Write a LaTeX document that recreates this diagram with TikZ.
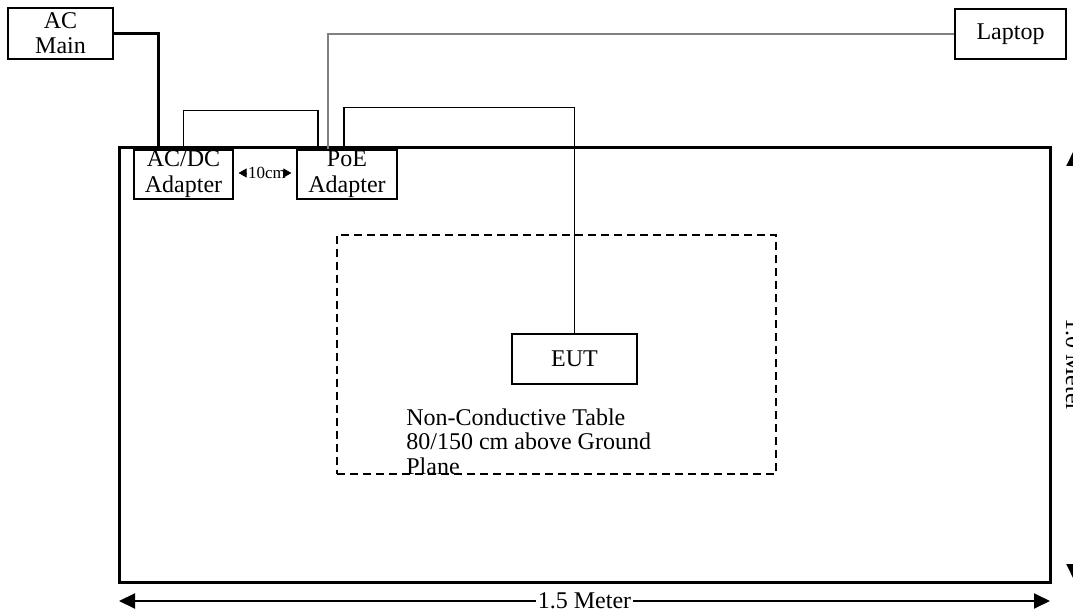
\documentclass[tikz,border=0pt]{standalone}
\usepackage{fontspec}
\setmainfont{Liberation Serif}
\usetikzlibrary{arrows.meta,positioning,calc}

\begin{document}
\begin{tikzpicture}[x=0.5pt,y=-0.5pt,every node/.style={font=\fontsize{12}{12.5}\selectfont},
  box/.style={draw,line width=0.6pt,inner sep=0pt,align=center},
  wire/.style={line width=0.6pt},
  dimline/.style={line width=1pt,{Triangle[length=8pt,width=7.5pt]}-{Triangle[length=8pt,width=7.5pt]}}]
\useasboundingbox (0,0) rectangle (1073,615);
\clip (0,0) rectangle (1073,615);
% ground plane and table
\node[draw,line width=1.5pt,inner sep=0pt,minimum width=465.5pt,minimum height=217pt] (plane) at (584.5,365) {};
\node[draw,line width=0.6pt,dash pattern=on 4pt off 2.5pt,inner sep=0pt,minimum width=219.5pt,minimum height=119.5pt] (table) at (556.5,354.5) {};
\node[anchor=north west,inner sep=0pt,align=left,font=\fontsize{12}{12.3}\selectfont] (tabletext) at (406,408) {Non-Conductive Table\\80/150 cm above Ground\\Plane};
% equipment
\node[box,minimum width=52.5pt,minimum height=25.5pt] (acmain) at (60.5,33.5) {AC\\Main};
\node[box,minimum width=49.5pt,minimum height=24.5pt,font=\fontsize{12}{13}\selectfont] (acdc) at (183.5,174.5) {AC/DC\\Adapter};
\node[box,minimum width=50pt,minimum height=24.5pt,font=\fontsize{12}{13}\selectfont] (poe) at (347,174.5) {PoE\\Adapter};
\node[box,minimum width=55.5pt,minimum height=25pt] (laptop) at (1010.5,34) {Laptop};
\node[box,minimum width=62.5pt,minimum height=25pt] (eut) at (574.5,359) {EUT};
% cables
\coordinate (acin) at (158,148);
\draw[line width=1.5pt] (acmain.east) -| (acin);
\draw[wire] (acdc.north) -- ++(0,-39) -| ($(poe.north)+(-29,0)$);
\draw[wire,gray] ($(poe.north)+(-19,0)$) |- (laptop.west);
\draw[wire] ($(poe.north)+(-3,0)$) -- ++(0,-42) -| (eut.north);
% spacing between adapters
\node[font=\fontsize{8.5}{9}\selectfont,inner sep=1pt] (gap) at (267,173) {10cm};
\foreach \s/\b in {west/acdc.east,east/poe.west}{\draw[-{Triangle[length=4pt,width=4.5pt]},shorten >=2.5pt] (gap.\s) -- (gap.\s -| \b);}
% dimensions
\coordinate (wl) at (119,601);
\coordinate (wr) at (1050,601);
\draw[dimline] (wl) -- node[fill=white,inner sep=1pt] (wlabel) {1.5 Meter} (wr);
\coordinate (ht) at (1074,150);
\coordinate (hb) at (1074,580);
\draw[dimline] (ht) -- node[fill=white,inner sep=1pt,rotate=-90] (hlabel) {1.0 Meter} (hb);
\end{tikzpicture}
\end{document}
